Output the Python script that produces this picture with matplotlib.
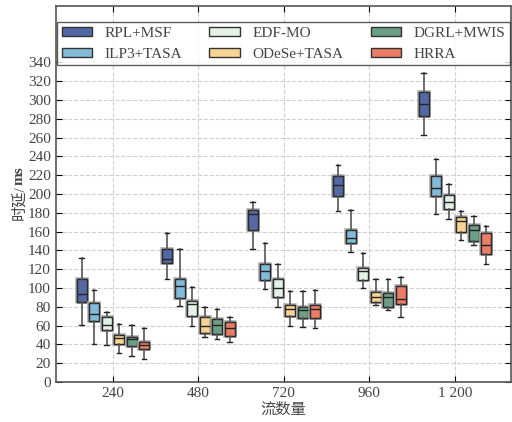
import numpy as np
import matplotlib
matplotlib.use('Agg')
import matplotlib.pyplot as plt
import matplotlib.patheffects as pe
from matplotlib.patches import Patch

# flow counts on the x axis
flows = ['240', '480', '720', '960', '1 200']
methods = ['RPL+MSF', 'ILP3+TASA', 'EDF-MO', 'ODeSe+TASA', 'DGRL+MWIS', 'HRRA']
colors = ['#5468a6', '#82bad8', '#e3f1e7', '#f8d493', '#6c9f85', '#eb7c66']

# box stats per method, one tuple per flow count: (low whisker, q1, median, q3, high whisker)
rpl_msf = [(61, 85, 93, 110, 132), (110, 126, 131, 141, 158), (141, 162, 179, 183, 191),
           (182, 198, 209, 219, 231), (263, 283, 296, 308, 329)]
ilp3_tasa = [(40, 65, 72, 84, 98), (81, 89, 102, 109, 141), (99, 108, 118, 125, 148),
             (138, 148, 153, 162, 183), (179, 198, 206, 219, 237)]
edf_mo = [(39, 55, 61, 69, 74), (60, 70, 83, 86, 101), (80, 90, 100, 110, 125),
          (100, 108, 118, 121, 137), (173, 184, 191, 199, 211)]
odese_tasa = [(31, 40, 47, 50, 62), (48, 52, 60, 69, 80), (60, 70, 78, 82, 97),
              (82, 85, 90, 96, 110), (151, 159, 171, 175, 182)]
dgrl_mwis = [(28, 38, 46, 48, 61), (46, 51, 61, 67, 78), (58, 68, 77, 80, 97),
             (77, 80, 90, 95, 110), (146, 150, 162, 167, 176)]
hrra = [(24, 35, 39, 42, 57), (42, 49, 57, 64, 69), (57, 68, 78, 82, 98),
        (69, 83, 88, 102, 112), (125, 136, 146, 158, 166)]

all_stats = [rpl_msf, ilp3_tasa, edf_mo, odese_tasa, dgrl_mwis, hrra]

plt.rcParams['font.family'] = ['Liberation Serif', 'Noto Sans CJK SC']
plt.rcParams['font.size'] = 11

fig = plt.figure(figsize=(5.12, 4.22), dpi=100)
ax = fig.add_axes([0.109, 0.095, 0.889, 0.891])

x = np.arange(1, len(flows) + 1)
step = 0.146
width = 0.118
halo = [pe.withStroke(linewidth=2.6, foreground='#b0b0b0')]

for i, (name, col, stats) in enumerate(zip(methods, colors, all_stats)):
    bstats = []
    for lo, q1, med, q3, hi in stats:
        bstats.append({'whislo': lo, 'q1': q1, 'med': med, 'q3': q3, 'whishi': hi, 'fliers': []})
    pos = x + (i - 2.5) * step
    bp = ax.bxp(bstats, positions=pos, widths=width, patch_artist=True,
                showfliers=False, manage_ticks=False,
                boxprops=dict(facecolor=col, edgecolor='#2b2b2b', linewidth=1.0),
                medianprops=dict(color='#222222', linewidth=1.0),
                whiskerprops=dict(color='#555555', linewidth=1.2),
                capprops=dict(color='#222222', linewidth=1.0),
                capwidths=width * 0.45)
    for b in bp['boxes']:
        b.set_path_effects(halo + [pe.Normal()])

ax.set_xlim(0.333, 5.655)
ax.set_ylim(0, 400)
ax.set_yticks(np.arange(0, 341, 20))
ax.set_xticks(x)
ax.set_xticklabels(flows)
ax.tick_params(direction='in', top=True, right=True, length=4, labelsize=11)
ax.grid(True, linestyle='--', color='#d0d0d0', linewidth=0.8)
ax.set_axisbelow(True)
for s in ax.spines.values():
    s.set_color('#555555')
    s.set_linewidth(1.2)

ax.set_xlabel('流数量', fontsize=11, color='#444444', labelpad=2)
# y label: "时延/" normal + "ms" bold, joined at one anchor point
ax.text(-0.08, 0.524, '时延/', transform=ax.transAxes, rotation=90,
        rotation_mode='anchor', ha='right', va='center', fontsize=11, color='#444444')
ax.text(-0.08, 0.524, 'ms', transform=ax.transAxes, rotation=90,
        rotation_mode='anchor', ha='left', va='center', fontsize=11,
        fontweight='bold', color='#444444')

handles = [Patch(facecolor=c, edgecolor='#333333', label=m) for m, c in zip(methods, colors)]
leg = ax.legend(handles=handles, ncol=3, loc='upper center', bbox_to_anchor=(0.5, 0.957),
                frameon=True, fancybox=False, edgecolor='#333333', fontsize=11,
                handlelength=2.0, handleheight=0.6, handletextpad=0.8, columnspacing=1.8,
                borderpad=0.3, labelspacing=0.5, borderaxespad=0)
leg.get_frame().set_linewidth(1.0)
for t in leg.get_texts():
    t.set_color('#444444')
for t in ax.get_xticklabels() + ax.get_yticklabels():
    t.set_color('#444444')

fig.savefig('out.png', dpi=100)
